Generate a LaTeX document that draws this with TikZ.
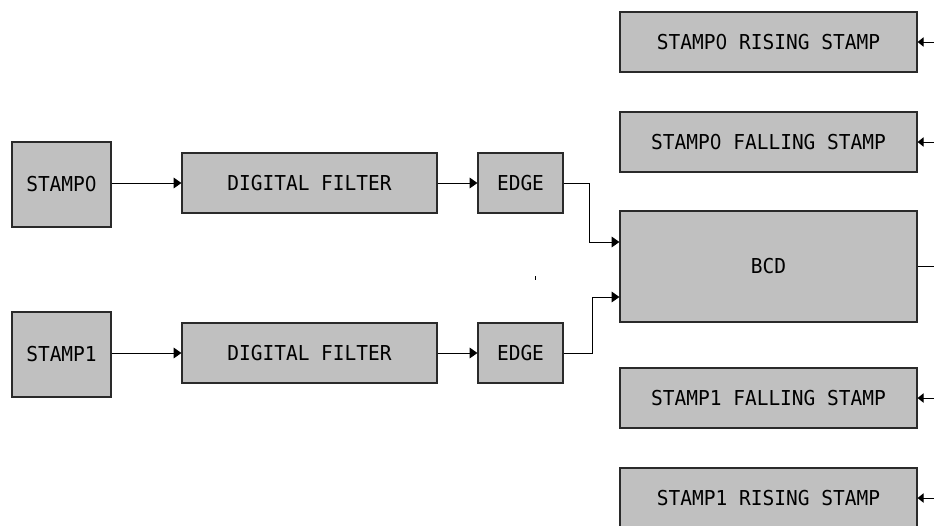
\documentclass[tikz,border=0pt]{standalone}
\usepackage{fontspec}
\setmonofont[FakeStretch=0.95]{DejaVu Sans Mono}
\newfontfamily\zerofont[FakeStretch=0.9]{DejaVu Sans}
\newcommand{\nil}{{\zerofont 0}}
\usetikzlibrary{arrows.meta}
\definecolor{boxfill}{HTML}{C0C0C0}
\definecolor{boxline}{HTML}{2A2A2A}
\begin{document}
\begin{tikzpicture}[x=0.75pt,y=-0.75pt,
  blk/.style={draw=boxline, line width=0.9pt, fill=boxfill, inner sep=0pt,
    font=\ttfamily\fontsize{15.4}{17}\selectfont},
  small/.style={blk, minimum width=74.25pt, minimum height=63.75pt},
  filt/.style={blk, minimum width=191.25pt, minimum height=45pt},
  edg/.style={blk, minimum width=63.75pt, minimum height=45pt},
  wide/.style={blk, minimum width=222.75pt, minimum height=45pt},
  link/.style={line width=0.75pt, draw=black, -{Triangle[length=5.8pt,width=8pt]}},
  feed/.style={line width=0.75pt, draw=black, -{Triangle[length=4.5pt,width=7pt]}},
  wire/.style={line width=0.75pt, draw=black}]
\useasboundingbox (0,0) rectangle (934,525);
\clip (0,0) rectangle (934,525);

% input chain 0
\node[small] (s0) at (61.5,184.5) {STAMP\nil};
\node[filt]  (d0) at (309.5,183) {DIGITAL FILTER};
\node[edg]   (e0) at (520.5,183) {EDGE};
% input chain 1
\node[small] (s1) at (61.5,354.5) {STAMP1};
\node[filt]  (d1) at (309.5,353) {DIGITAL FILTER};
\node[edg]   (e1) at (520.5,353) {EDGE};

% decoder and stamp registers
\node[blk, minimum width=222.75pt, minimum height=83.25pt] (bcd) at (768.5,266.5) {BCD};
\node[wide] (r0) at (768.5,42)  {STAMP\nil{} RISING STAMP};
\node[wide] (f0) at (768.5,142) {STAMP\nil{} FALLING STAMP};
\node[wide] (f1) at (768.5,398) {STAMP1 FALLING STAMP};
\node[wide] (r1) at (768.5,498) {STAMP1 RISING STAMP};

% chain connectors
\draw[link] (s0.east |- d0.west) -- (d0.west);
\draw[link] (d0.east) -- (e0.west);
\draw[link] (s1.east |- d1.west) -- (d1.west);
\draw[link] (d1.east) -- (e1.west);

% edges into the decoder
\coordinate (j0) at (589,242);
\coordinate (j1) at (592,297);
\draw[link] (e0.east) -| (j0) -- (j0 -| bcd.west);
\draw[link] (e1.east) -| (j1) -- (j1 -| bcd.west);

% decoder output and register feeds from the right margin
\coordinate (out) at (940,266.5);
\draw[wire] (bcd.east) -- (out);
\coordinate (fr0) at (940,42);
\coordinate (ff0) at (940,142);
\coordinate (ff1) at (940,398);
\coordinate (fr1) at (940,498);
\draw[feed] (fr0) -- (r0.east);
\draw[feed] (ff0) -- (f0.east);
\draw[feed] (ff1) -- (f1.east);
\draw[feed] (fr1) -- (r1.east);

% small stray tick
\draw[line width=1.2pt] (535.3,276) -- (535.3,280);
\end{tikzpicture}
\end{document}
